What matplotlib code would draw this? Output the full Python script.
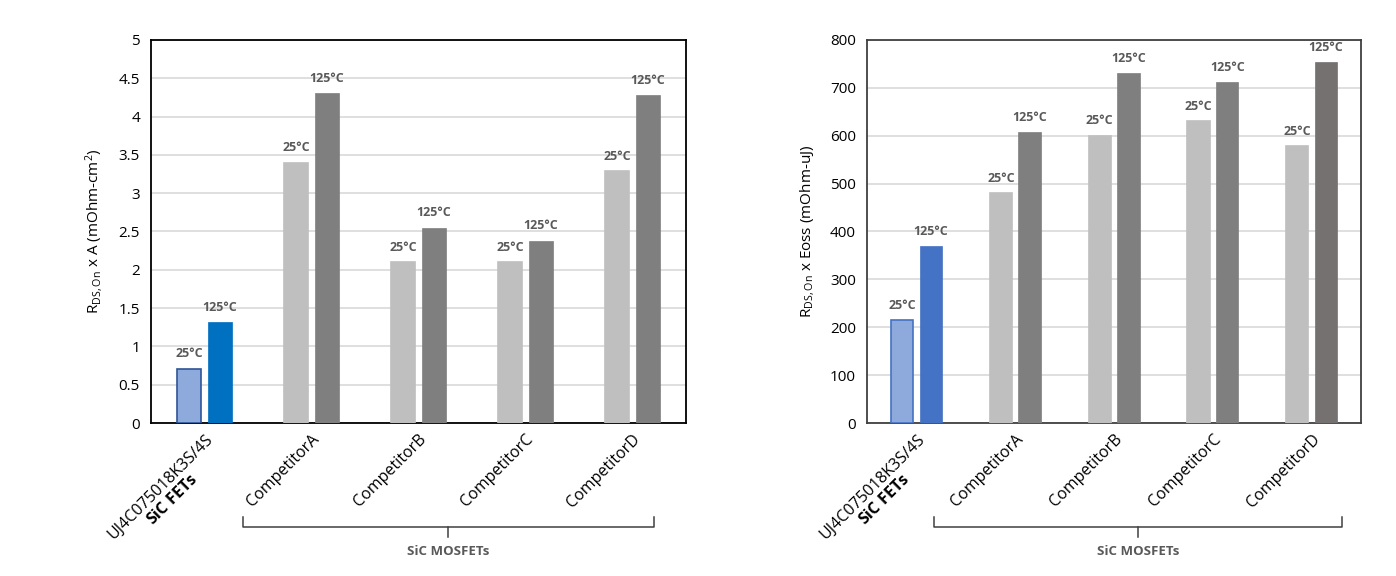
import matplotlib
matplotlib.use("Agg")
import matplotlib.pyplot as plt
import matplotlib.transforms as mtransforms
import numpy as np

plt.rcParams['font.family'] = ['Open Sans', 'DejaVu Sans']
plt.rcParams['mathtext.fontset'] = 'custom'
plt.rcParams['mathtext.rm'] = 'Open Sans'
plt.rcParams['mathtext.it'] = 'Open Sans'
plt.rcParams['mathtext.bf'] = 'Open Sans:bold'

categories = ["UJ4C075018K3S/4S\n$\\bf{SiC\\ FETs}$", "CompetitorA",
              "CompetitorB", "CompetitorC", "CompetitorD"]
temp_labels = ["25°C", "125°C"]

# R_DS,on x A (mOhm-cm^2)
area_25 = [0.71, 3.40, 2.10, 2.10, 3.29]
area_125 = [1.32, 4.31, 2.55, 2.38, 4.28]

# R_DS,on x Eoss (mOhm-uJ)
eoss_25 = [215, 480, 600, 630, 578]
eoss_125 = [370, 607, 731, 712, 753]

fig = plt.figure(figsize=(13.96, 5.76), dpi=100)
ax1 = fig.add_axes([0.1082, 0.2656, 0.3832, 0.665])
ax2 = fig.add_axes([0.6211, 0.2656, 0.3539, 0.665])


def draw_panel(ax, v25, v125, ymax, ystep, ylabel, blue25, edge25, blue125,
               dark_last, frame_color, bracket):
    x = np.arange(len(categories))
    w = 0.225
    off = 0.145
    c25 = [blue25] + ["#BFBFBF"] * 4
    e25 = [edge25] + ["#BFBFBF"] * 4
    c125 = [blue125] + ["#7F7F7F"] * 3 + [dark_last]
    b1 = ax.bar(x - off, v25, w, color=c25, edgecolor=e25, linewidth=1.2, zorder=3)
    b2 = ax.bar(x + off, v125, w, color=c125, edgecolor=c125, linewidth=0.5, zorder=3)
    for bars, lab in [(b1, temp_labels[0]), (b2, temp_labels[1])]:
        for b in bars:
            ax.annotate(lab, (b.get_x() + b.get_width() / 2, b.get_height()),
                        xytext=(0, 6), textcoords="offset points",
                        ha="center", va="bottom", fontsize=9,
                        fontweight="bold", color="#595959")
    ax.set_xlim(-0.5, len(categories) - 0.5)
    ax.set_ylim(0, ymax)
    ticks = np.arange(0, ymax + ystep / 2, ystep)
    ax.set_yticks(ticks)
    ax.set_yticklabels([f"{t:g}" for t in ticks])
    ax.yaxis.grid(True, color="#D9D9D9", linewidth=1.2, zorder=0)
    ax.set_axisbelow(True)
    ax.tick_params(length=0, labelsize=11, pad=8)
    ax.set_xticks(x)
    ax.set_xticklabels(categories, rotation=45, ha="right",
                       rotation_mode="anchor", fontsize=11.5,
                       multialignment="center")
    ax.tick_params(axis="x", pad=6)
    for s in ax.spines.values():
        s.set_color(frame_color)
        s.set_linewidth(1.3)
    ax.set_ylabel(ylabel, fontsize=11, labelpad=10)

    # bracket under competitor group
    tr = mtransforms.blended_transform_factory(ax.transData, ax.transAxes)
    xl, xr = bracket
    xm = (xl + xr) / 2
    y_top, y_bar, y_tip = -0.245, -0.272, -0.297
    ax.plot([xl, xl, xr, xr], [y_top, y_bar, y_bar, y_top], color="#404040",
            linewidth=1.1, transform=tr, clip_on=False)
    ax.plot([xm, xm], [y_bar, y_tip], color="#404040", linewidth=1.1,
            transform=tr, clip_on=False)
    ax.text(xm, -0.335, "SiC MOSFETs", transform=tr, ha="center", va="center",
            fontsize=9.5, fontweight="bold", color="#595959")


draw_panel(ax1, area_25, area_125, 5, 0.5,
           "R$_{DS,On}$ x A (mOhm-cm$^2$)",
           "#8EA9DB", "#2F5597", "#0070C0", "#7F7F7F", "black", (0.36, 4.2))
draw_panel(ax2, eoss_25, eoss_125, 800, 100,
           "R$_{DS,On}$ x Eoss (mOhm-uJ)",
           "#8EA9DB", "#4472C4", "#4472C4", "#767171", "#404040", (0.18, 4.31))

fig.savefig("out.png", dpi=100)
